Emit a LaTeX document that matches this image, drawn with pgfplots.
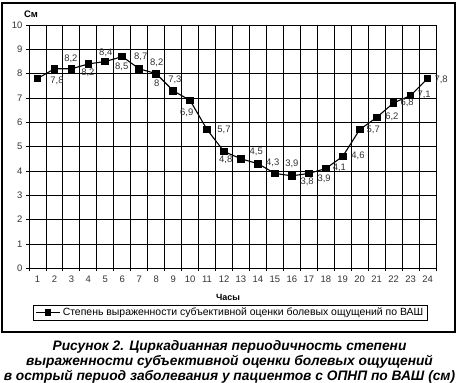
\documentclass[border=0pt]{standalone}
\usepackage{fontspec}
\setmainfont{Liberation Sans}
\usepackage{pgfplots}
\pgfplotsset{compat=1.18}
\begin{document}
\begin{tikzpicture}[x=1bp,y=1bp]
\useasboundingbox (-29,-113.7) rectangle (430,268.3);
\draw[line width=1.4bp] (-27,265.3) rectangle (426,-63.7);
\begin{axis}[
  scale only axis, width=407bp, height=243.3bp,
  at={(0,0)}, anchor=south west,
  xmin=0.5, xmax=24.5, ymin=0, ymax=10,
  xtick={1,...,24}, ytick={0,...,10},
  minor xtick={0.5,1.5,...,24.5},
  xminorgrids=true, ymajorgrids=true, xmajorgrids=false,
  major x tick style={draw=none},
  minor tick length=3bp, major tick length=3bp,
  tick align=outside,
  tick style={black, line width=0.9bp},
  grid style={black, line width=0.9bp},
  minor grid style={black, line width=0.9bp},
  axis line style={black, line width=0.9bp},
  axis x line*=bottom, axis y line*=left,
  ticklabel style={font=\fontsize{9.5}{10}\selectfont, text=black!80},
  /pgf/number format/assume math mode=true,
  xticklabel style={yshift=-1bp},
  clip=false,
  legend style={at={(0.495,-0.182)}, anchor=center, draw=black, line width=0.8bp,
    font=\fontsize{10.5}{11}\selectfont, inner xsep=2bp, inner ysep=1bp},
  legend cell align=left,
  legend image code/.code={\draw[mark repeat=2,mark phase=2,mark size=2.6bp,#1] plot coordinates {(0bp,0bp) (12bp,0bp) (24bp,0bp)};},
]
\addplot[black, line width=1.1bp, mark=square*, mark size=3.3bp, mark options={solid}] coordinates {
(1,7.8) (2,8.2) (3,8.2) (4,8.4) (5,8.5) (6,8.7) (7,8.2) (8,8) (9,7.3) (10,6.9) (11,5.7) (12,4.8)
(13,4.5) (14,4.3) (15,3.9) (16,3.8) (17,3.9) (18,4.1) (19,4.6) (20,5.7) (21,6.2) (22,6.8) (23,7.1) (24,7.8)};
\addlegendentry{Степень выраженности субъективной оценки болевых ощущений по ВАШ}
\begin{scope}[every node/.style={font=\fontsize{9.5}{10}\selectfont, text=black!80}]
\node at (axis cs:2.15,7.70) {7,8};
\node at (axis cs:2.97,8.6) {8,2};
\node at (axis cs:3.97,8.02) {8,2};
\node at (axis cs:5.03,8.84) {8,4};
\node at (axis cs:5.97,8.27) {8,5};
\node at (axis cs:7.09,8.68) {8,7};
\node at (axis cs:8.03,8.43) {8,2};
\node at (axis cs:8.03,7.61) {8};
\node at (axis cs:9.1,7.74) {7,3};
\node at (axis cs:9.8,6.38) {6,9};
\node at (axis cs:12.0,5.68) {5,7};
\node at (axis cs:12.1,4.45) {4,8};
\node at (axis cs:13.9,4.78) {4,5};
\node at (axis cs:14.87,4.33) {4,3};
\node at (axis cs:16.0,4.29) {3,9};
\node at (axis cs:16.9,3.55) {3,8};
\node at (axis cs:17.9,3.67) {3,9};
\node at (axis cs:18.8,4.12) {4,1};
\node at (axis cs:19.9,4.62) {4,6};
\node at (axis cs:20.8,5.68) {5,7};
\node at (axis cs:21.9,6.22) {6,2};
\node at (axis cs:22.8,6.8) {6,8};
\node at (axis cs:23.8,7.12) {7,1};
\node at (axis cs:24.8,7.74) {7,8};
\end{scope}
\end{axis}
\node[font=\bfseries\fontsize{9}{10}\selectfont] at (199,-28.7) {Часы};
\node[font=\bfseries\fontsize{9.5}{10}\selectfont] at (2,254) {См};
\node[font=\bfseries\itshape\fontsize{13.8}{15}\selectfont, align=center] at (200.5,-93.7)
 {Рисунок 2. Циркадианная периодичность степени\\
  выраженности субъективной оценки болевых ощущений\\
  в острый период заболевания у пациентов с ОПНП по ВАШ (см)};
\end{tikzpicture}
\end{document}
